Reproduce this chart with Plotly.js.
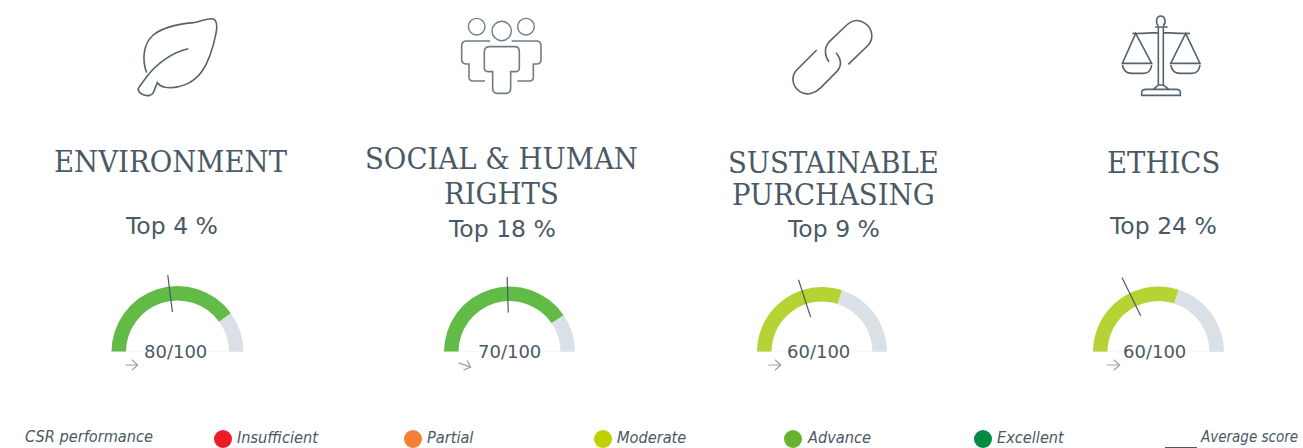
<!DOCTYPE html>
<html><head><meta charset="utf-8">
<script src="https://cdn.plot.ly/plotly-3.0.1.min.js"></script>
<style>html,body{margin:0;padding:0;background:#fff;overflow:hidden}#c{width:1303px;height:448px}</style>
</head><body><div id="c"></div>
<script>
// ---- data ----
const categories = [["ENVIRONMENT"],["SOCIAL & HUMAN","RIGHTS"],["SUSTAINABLE","PURCHASING"],["ETHICS"]];
const topPercent = ["Top 4 %","Top 18 %","Top 9 %","Top 24 %"];
const scores = [80,70,60,60];        // printed under each gauge
const arcFill = [80,81,60,60];       // how far the coloured arc is actually drawn
const averages = [46,49,40,35.5];
const scoreMax = 100;
const legendLabels = ["Insufficient","Partial","Moderate","Advance","Excellent"];
const legendColors = ["#ed1c24","#f57f36","#bed000","#66b32e","#008a43"];

// ---- layout constants (pixels) ----
const W=1303,H=448;
const INK="#4a5965";
const gaugeX=[177.5,509.5,822,1158.5], gaugeY=352;
const outerR=[66,65.5,65,65.5], arcThick=14.5;
const needleIn=[40.5,39.5,36.7,40.4], needleOut=[77.6,75,76,83];
const labelX=[175,509.5,818.5,1154.5];
const titleX=[171,501,833,1163];
const titleY=[[161],[158,193],[162,194],[162]];
const topX=[171,502,833,1163], topY=[226,229,229,226];
const legendX=[223,413,603,793,983];
const arrowC=[131.4,464.7,774.5,1113.3], arrowTilt=[0,20,0,0];
const RMAX=90;
const fillColor=s=>s>=70?"#62bb46":"#b5d334";

const traces=[];
const layout={width:W,height:H,margin:{l:0,r:0,t:0,b:0},paper_bgcolor:"#fff",plot_bgcolor:"rgba(0,0,0,0)",showlegend:false,
  xaxis:{range:[0,W],visible:false,fixedrange:true,domain:[0,1]},
  yaxis:{range:[H,0],visible:false,fixedrange:true,domain:[0,1]},
  annotations:[],shapes:[]};

function text(t,x,y,size,family,color,extra){
  layout.annotations.push(Object.assign({text:t,x:x,y:y,xref:"x",yref:"y",showarrow:false,xanchor:"center",yanchor:"middle",
    font:{size:size,family:family,color:color}},extra||{}));
}

// gauges
const toDeg=v=>v/scoreMax*180;
scores.forEach((s,i)=>{
  const id=i===0?"polar":"polar"+(i+1);
  const cx=gaugeX[i], cy=gaugeY, f=arcFill[i];
  layout[id]={domain:{x:[(cx-RMAX)/W,(cx+RMAX)/W],y:[1-cy/H,1-(cy-RMAX)/H]},sector:[0,180],bgcolor:"rgba(0,0,0,0)",
    radialaxis:{visible:false,range:[0,RMAX]},
    angularaxis:{visible:false,rotation:180,direction:"clockwise",thetaunit:"degrees"}};
  const inner=outerR[i]-arcThick;
  traces.push({type:"barpolar",subplot:id,hoverinfo:"skip",
    theta:[toDeg(f/2),toDeg((f+scoreMax)/2)],
    width:[toDeg(f),toDeg(scoreMax-f)],
    r:[arcThick,arcThick],base:[inner,inner],
    marker:{color:[fillColor(s),"#d9e0e6"],line:{width:0}}});
  traces.push({type:"scatterpolar",subplot:id,mode:"lines",hoverinfo:"skip",
    theta:[toDeg(averages[i]),toDeg(averages[i])],r:[needleIn[i],needleOut[i]],
    line:{color:INK,width:1.2}});
  traces.push({type:"scatterpolar",subplot:id,mode:"lines",hoverinfo:"skip",
    theta:[0,toDeg(scoreMax)],r:[outerR[i],outerR[i]],line:{color:"#eef1f3",width:1}});
  text(s+"/"+scoreMax,labelX[i],cy-0.5,18,"'DejaVu Sans'",INK);
  // little arrow, tilted where the original is
  const t=arrowTilt[i]*Math.PI/180, ac=arrowC[i], ay=365;
  const P=(dx,dy)=>(ac+dx*Math.cos(t)-dy*Math.sin(t)).toFixed(2)+","+(ay+dx*Math.sin(t)+dy*Math.cos(t)).toFixed(2);
  layout.shapes.push({type:"path",xref:"x",yref:"y",line:{color:"#98a3ad",width:1.2},
    path:`M${P(-6.3,0)} L${P(6.3,0)} M${P(0.5,-5.2)} L${P(6.3,0)} L${P(0.5,5.2)}`});
});

// headings
const SERIF="'DejaVu Serif Condensed','DejaVu Serif'";
categories.forEach((lines,i)=>{
  lines.forEach((l,j)=>text(l,titleX[i],titleY[i][j],30.6,SERIF,INK));
  text(topPercent[i],topX[i],topY[i],23.5,"'DejaVu Sans'",INK);
});

// legend row
const LEG="'DejaVu Sans Condensed','DejaVu Sans'";
traces.push({type:"scatter",mode:"markers",xaxis:"x",yaxis:"y",hoverinfo:"skip",
  x:legendX,y:legendX.map(()=>439),marker:{size:18,color:legendColors,line:{width:0}}});
legendLabels.forEach((l,i)=>text("<i>"+l+"</i>",legendX[i]+12,437,16.2,LEG,INK,{xanchor:"left"}));
text("<i>CSR performance</i>",23,436.5,16.2,LEG,INK,{xanchor:"left"});
text("<i>Average score</i>",1198,436.5,15,LEG,INK,{xanchor:"left"});
layout.shapes.push({type:"line",xref:"x",yref:"y",x0:1165,x1:1197,y0:447.5,y1:447.5,line:{color:INK,width:1}});

// icons, written in 3x crop coordinates
function icon(ox,d,color,w){
  const path=d.replace(/(-?[\d.]+),(-?[\d.]+)/g,(m,x,y)=>(ox+x/3).toFixed(2)+","+(y/3).toFixed(2));
  layout.shapes.push({type:"path",xref:"x",yref:"y",path:path,line:{color:color,width:w}});
}
function ring(cx,cy,r,color,w){
  layout.shapes.push({type:"circle",xref:"x",yref:"y",x0:cx-r,x1:cx+r,y0:cy-r,y1:cy+r,line:{color:color,width:w}});
}
const ICON="#54636f";
icon(100,"M140,218 C125,180 130,130 160,105 C190,80 240,72 280,68 C305,64 325,52 340,57 C352,62 352,80 348,100 C340,140 330,180 305,215 C280,250 235,268 195,262 C185,260 175,252 172,248 L160,278 C155,288 140,290 125,282 C115,275 112,268 118,260 L140,230 M265,146 C220,155 170,190 140,230",ICON,1.6);
icon(440,"M150,140 L225,140 Q238,140 238,155 L238,205 Q238,215 225,215 L212,215 L212,265 Q212,280 198,280 L172,280 Q158,280 158,265 L158,215 L147,215 Q133,215 133,205 L133,155 Q133,140 150,140 Z M150,123 L80,123 Q65,123 65,138 L65,178 Q65,192 80,192 L87,192 L87,232 Q87,243 100,243 L135,243 M215,123 L290,123 Q303,123 303,138 L303,178 Q303,192 290,192 L280,192 L280,232 Q280,243 268,243 L232,243","#6f7c87",1.6);
ring(476.7,26.7,8.3,"#6f7c87",1.4); ring(501.7,31,9.7,"#6f7c87",1.4); ring(526,26.7,8.3,"#6f7c87",1.4);
icon(770,"M235,193 L295,135 C312,115 308,85 285,70 C265,56 245,62 230,75 L178,125 C160,145 165,170 177,185 M140,150 L78,212 C62,232 68,260 90,275 C110,288 135,280 150,265 L200,215 C218,195 212,175 198,158",ICON,1.6);
icon(1100,"M175,78 C165,65 170,48 182,48 C195,48 200,65 190,78 M165,81 L203,81 M175,81 L175,255 M190,81 L190,255 M97,100 C120,102 150,98 175,98 M190,98 C215,98 245,102 270,100 M107,100 L67,190 L155,190 Z M257,100 L212,190 L300,190 Z M67,195 Q72,220 95,220 L130,220 Q152,220 155,195 M212,195 Q217,220 240,220 L275,220 Q297,220 300,195 M125,286 L241,286 L241,277 Q241,268 228,268 L138,268 Q125,268 125,277 Z M160,268 L175,255 L190,255 L207,268",ICON,1.6);

Plotly.newPlot("c",traces,layout,{displayModeBar:false,staticPlot:true});
</script></body></html>
